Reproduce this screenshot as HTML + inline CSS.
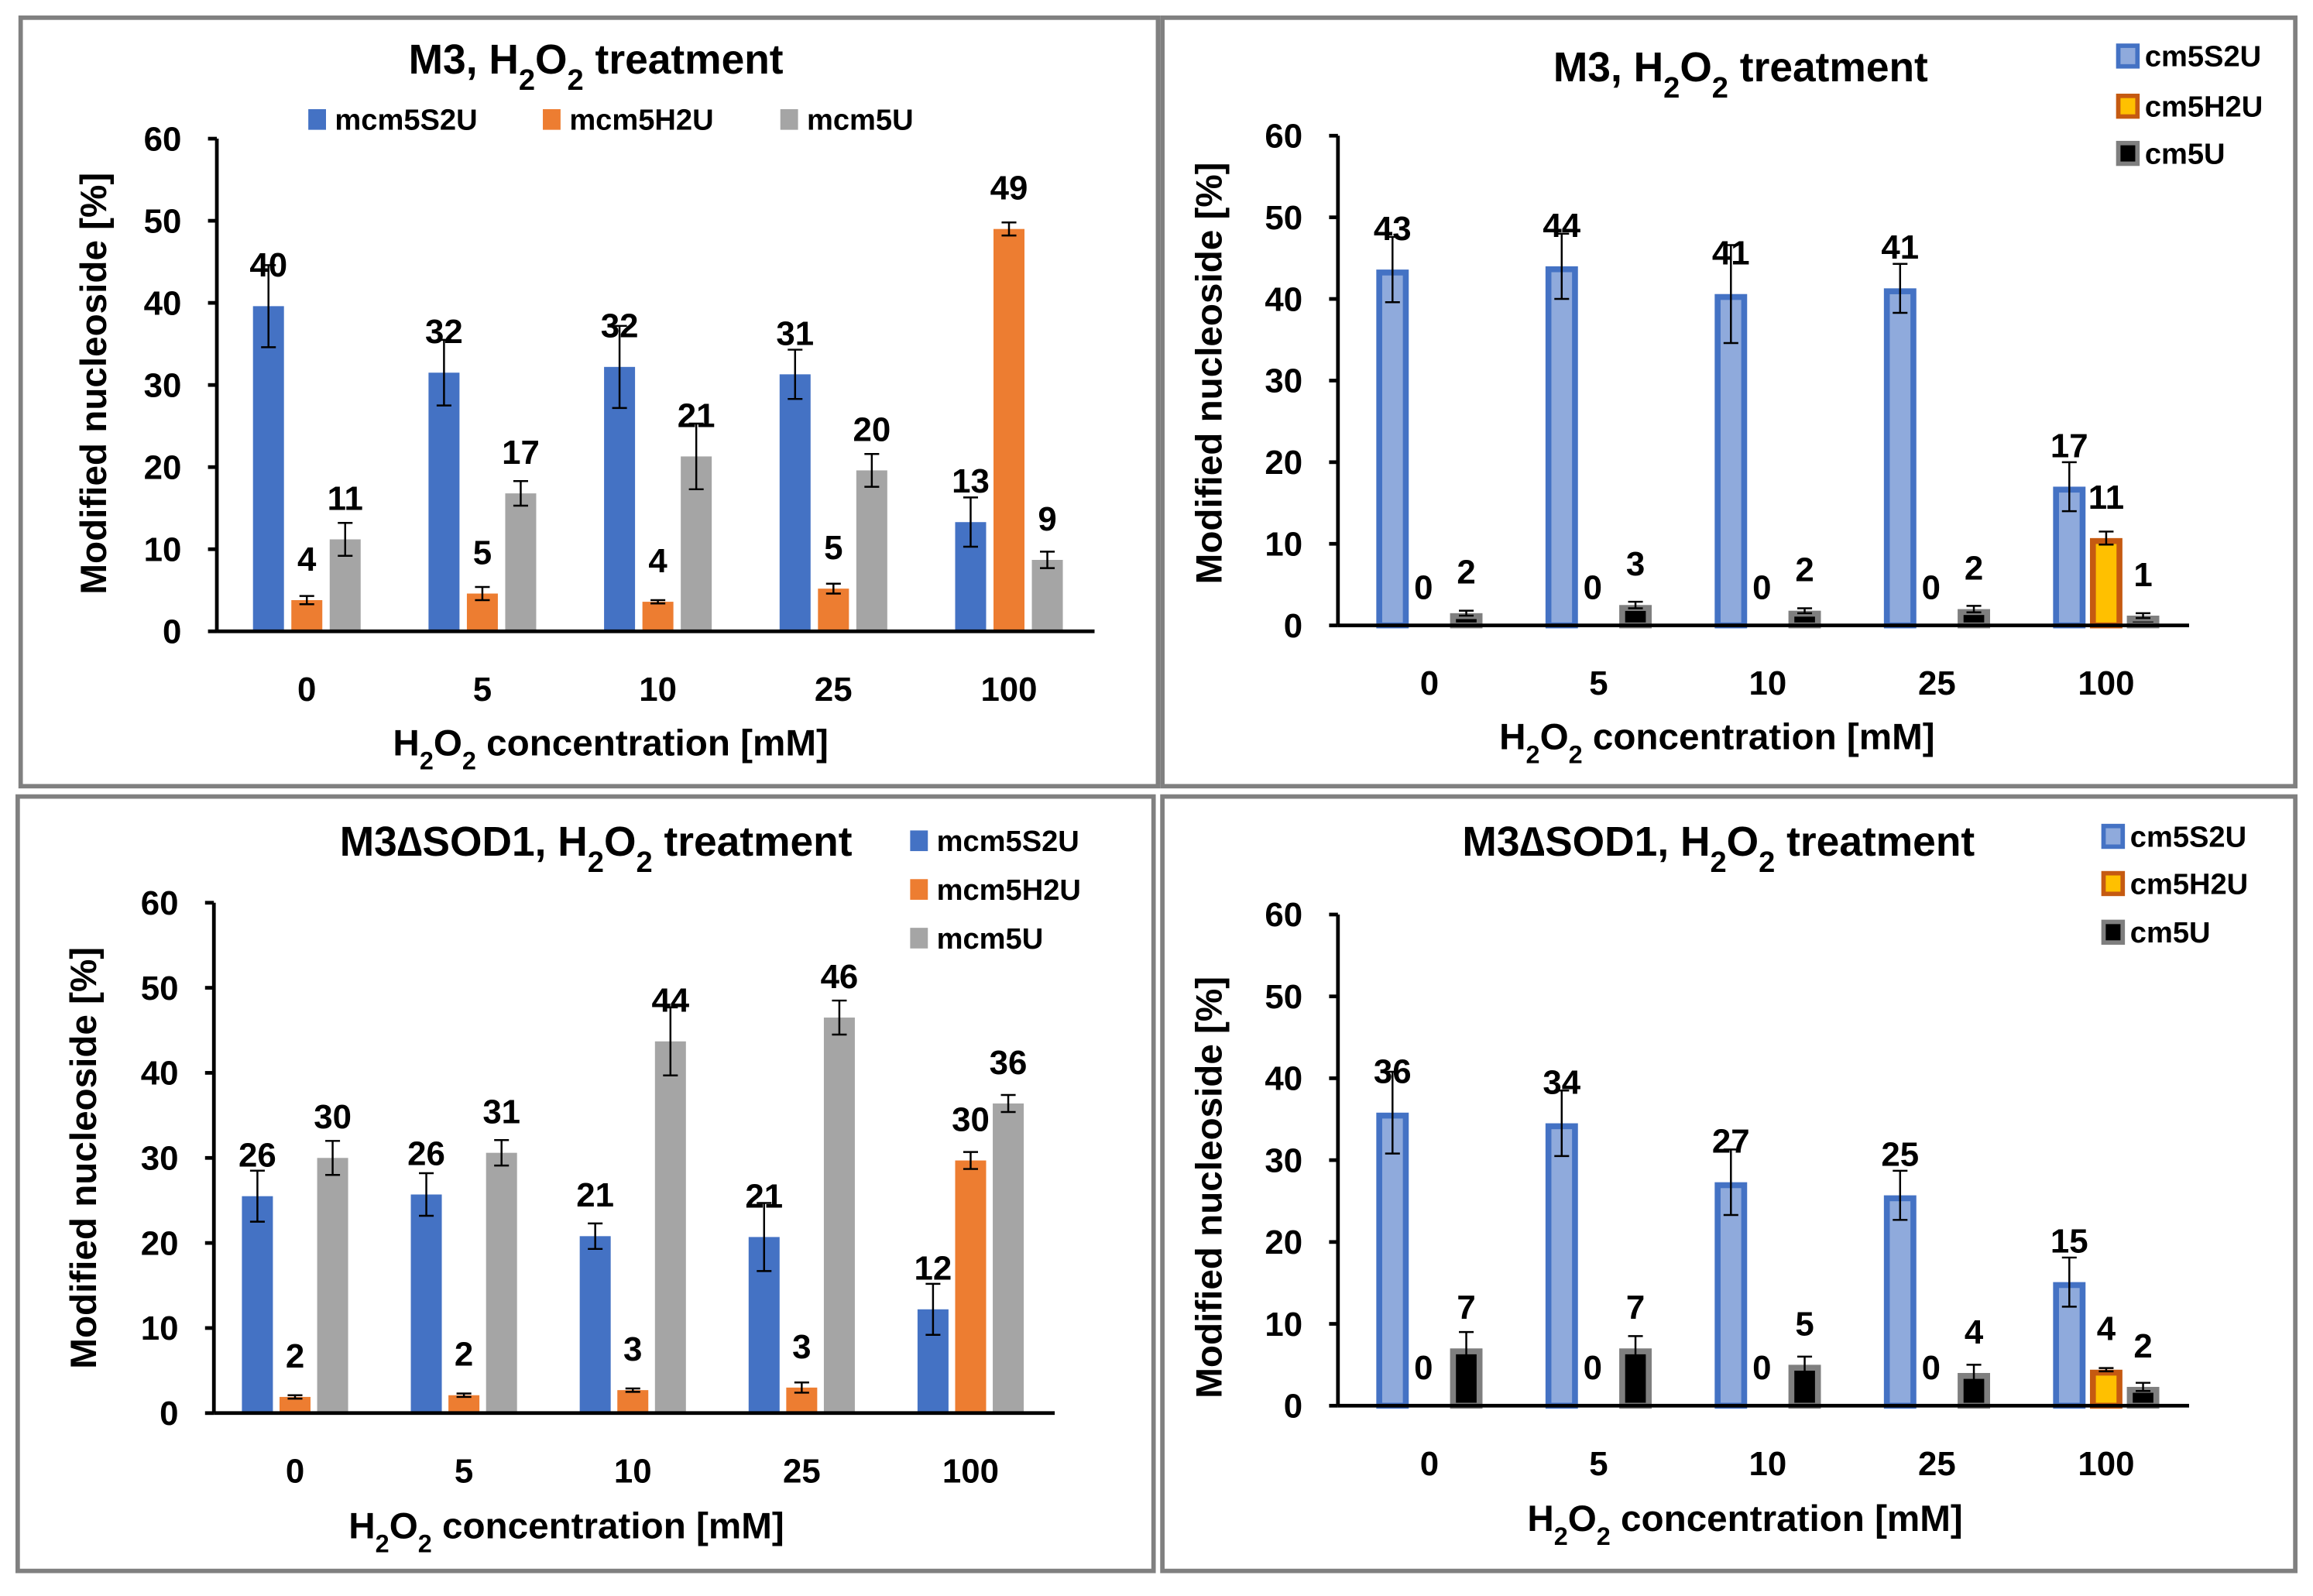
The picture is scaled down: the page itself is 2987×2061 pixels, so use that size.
<!DOCTYPE html>
<html><head><meta charset="utf-8"><style>
html,body{margin:0;padding:0;background:#fff}
svg{display:block}
text{font-family:"Liberation Sans",sans-serif;font-weight:bold;fill:#000}
</style></head><body>
<svg id="s" width="2987" height="2061" viewBox="0 0 1568 1082" preserveAspectRatio="none" xmlns="http://www.w3.org/2000/svg"></svg>
<script>
const categories=["0","5","10","25","100"];
const yTicks=[0,10,20,30,40,50,60];
// Panel A (M3, mcm5)
const a_s2u=[39.6,31.5,32.2,31.3,13.3], a_s2u_err=[5,4,5,3,3], a_s2u_lbl=["40","32","32","31","13"];
const a_h2u=[3.8,4.6,3.6,5.2,49], a_h2u_err=[0.5,0.8,0.2,0.6,0.8], a_h2u_lbl=["4","5","4","5","49"];
const a_u=[11.2,16.8,21.3,19.6,8.7], a_u_err=[2,1.5,4,2,1], a_u_lbl=["11","17","21","20","9"];
// Panel B (M3, cm5)
const b_s2u=[43.6,44,40.6,41.3,17], b_s2u_err=[4,4,6,3,3], b_s2u_lbl=["43","44","41","41","17"];
const b_h2u=[0,0,0,0,10.7], b_h2u_err=[0,0,0,0,0.8], b_h2u_lbl=["0","0","0","0","11"];
const b_u=[1.5,2.5,1.8,2,1.2], b_u_err=[0.3,0.4,0.3,0.4,0.3], b_u_lbl=["2","3","2","2","1"];
// Panel C (M3ΔSOD1, mcm5)
const c_s2u=[25.5,25.7,20.8,20.7,12.2], c_s2u_err=[3,2.5,1.5,4,3], c_s2u_lbl=["26","26","21","21","12"];
const c_h2u=[1.9,2.1,2.7,3,29.7], c_h2u_err=[0.2,0.2,0.2,0.6,1], c_h2u_lbl=["2","2","3","3","30"];
const c_u=[30,30.6,43.7,46.5,36.4], c_u_err=[2,1.5,4,2,1], c_u_lbl=["30","31","44","46","36"];
// Panel D (M3ΔSOD1, cm5)
const d_s2u=[35.8,34.5,27.3,25.7,15.1], d_s2u_err=[5,4,4,3,3], d_s2u_lbl=["36","34","27","25","15"];
const d_h2u=[0,0,0,0,4.4], d_h2u_err=[0,0,0,0,0.2], d_h2u_lbl=["0","0","0","0","4"];
const d_u=[7,7,5,4,2.3], d_u_err=[2,1.5,1,1,0.5], d_u_lbl=["7","7","5","4","2"];

const NS="http://www.w3.org/2000/svg", svg=document.getElementById('s');
function el(t,a,p){const e=document.createElementNS(NS,t);for(const k in a)e.setAttribute(k,a[k]);(p||svg).appendChild(e);return e;}
function txt(x,y,s,size,p,anchor,name){const e=el('text',{x:x,y:y,'font-size':size,'text-anchor':anchor||'middle'},p);e.innerHTML=s;

return e;}

const panels=[
 {bx:14,by:12,bw:771,bh:521,ax:147,y60:94,y0:428,xEnd:742,x0:208,dx:119,off:26,bw2:21,style:'flat',
  title:'M3, H<tspan baseline-shift="sub" font-size="20">2</tspan>O<tspan baseline-shift="sub" font-size="20">2</tspan> treatment',tx:404,ty:50,
  series:[[a_s2u,a_s2u_err,a_s2u_lbl],[a_h2u,a_h2u_err,a_h2u_lbl],[a_u,a_u_err,a_u_lbl]],
  names:['mcm5S2U','mcm5H2U','mcm5U'],leg:'row',legY:81,legX:[215,374,535],xlab:[414,512],ylab:[72,260]},
 {bx:788,by:12,bw:768,bh:521,ax:907,y60:92,y0:424,xEnd:1484,x0:969,dx:114.7,off:25,bw2:22,style:'outline',
  title:'M3, H<tspan baseline-shift="sub" font-size="20">2</tspan>O<tspan baseline-shift="sub" font-size="20">2</tspan> treatment',tx:1180,ty:55,
  series:[[b_s2u,b_s2u_err,b_s2u_lbl],[b_h2u,b_h2u_err,b_h2u_lbl],[b_u,b_u_err,b_u_lbl]],
  names:['cm5S2U','cm5H2U','cm5U'],leg:'col',legX:1442,legYs:[38,72,104],xlab:[1164,508],ylab:[828,253]},
 {bx:12,by:540,bw:770,bh:525,ax:145,y60:612,y0:958,xEnd:715,x0:200,dx:114.5,off:25.5,bw2:21,style:'flat',
  title:'M3∆SOD1, H<tspan baseline-shift="sub" font-size="20">2</tspan>O<tspan baseline-shift="sub" font-size="20">2</tspan> treatment',tx:404,ty:580,
  series:[[c_s2u,c_s2u_err,c_s2u_lbl],[c_h2u,c_h2u_err,c_h2u_lbl],[c_u,c_u_err,c_u_lbl]],
  names:['mcm5S2U','mcm5H2U','mcm5U'],leg:'col',legX:623,legYs:[570,603,636],xlab:[384,1043],ylab:[65,785]},
 {bx:788,by:540,bw:768,bh:525,ax:907,y60:620,y0:953,xEnd:1484,x0:969,dx:114.7,off:25,bw2:22,style:'outline',
  title:'M3∆SOD1, H<tspan baseline-shift="sub" font-size="20">2</tspan>O<tspan baseline-shift="sub" font-size="20">2</tspan> treatment',tx:1165,ty:580,
  series:[[d_s2u,d_s2u_err,d_s2u_lbl],[d_h2u,d_h2u_err,d_h2u_lbl],[d_u,d_u_err,d_u_lbl]],
  names:['cm5S2U','cm5H2U','cm5U'],leg:'col',legX:1432,legYs:[567,599,632],xlab:[1183,1038],ylab:[828,805]}
];
const flat=['#4472c4','#ed7d31','#a5a5a5'];
const outFill=['#8faadc','#ffc000','#000000'], outStroke=['#4472c4','#c55a11','#7f7f7f'];

panels.forEach((P,pi)=>{
 const g=el('g',{});
 
 
 const fr=el('rect',{x:P.bx,y:P.by,width:P.bw,height:P.bh,fill:'none',stroke:'#808080','stroke-width':3},g);
 
 
 const Y=v=>P.y0-(P.y0-P.y60)*v/60;
 txt(P.tx,P.ty,P.title,28,g,'middle','chart-title');
 const ya=el('line',{x1:P.ax,y1:P.y60,x2:P.ax,y2:P.y0,stroke:'#000','stroke-width':2.5},g);
 
 
 yTicks.forEach(t=>{
  el('line',{x1:P.ax-6,y1:Y(t),x2:P.ax,y2:Y(t),stroke:'#000','stroke-width':2.5},g);
  txt(P.ax-24,Y(t)+8,String(t),23,g,'end','y-tick-label');
 });
 P.series.forEach((S,si)=>{
  const [vals,errs,lbls]=S;
  vals.forEach((v,i)=>{
   const cx=P.x0+P.dx*i+(si-1)*P.off, x=cx-P.bw2/2;
   let r;
   if(P.style==='flat'){
    r=el('rect',{x:x,y:Y(v),width:P.bw2,height:P.y0-Y(v),fill:flat[si]},g);
   } else {
    r=el('rect',{x:x+2,y:Y(v)+2,width:P.bw2-4,height:Math.max(0,P.y0-Y(v)-2),fill:outFill[si],stroke:outStroke[si],'stroke-width':4},g);
    if(v<=0) r.setAttribute('stroke-width',0);
   }
   
   
   const e=errs[i];
   if(e>0){
    const yt=Y(v+e), yb=Y(Math.max(0,v-e));
    el('line',{x1:cx,y1:yt,x2:cx,y2:yb,stroke:'#000','stroke-width':1.3},g);
    el('line',{x1:cx-5,y1:yt,x2:cx+5,y2:yt,stroke:'#000','stroke-width':1.3},g);
    el('line',{x1:cx-5,y1:yb,x2:cx+5,y2:yb,stroke:'#000','stroke-width':1.3},g);
   }
   const zero=(P.style==='outline' && si===1 && v<=0);
   const ly = zero? P.y0-18 : Y(v)-20;
   const lx = zero? cx-4 : cx;
   txt(lx,ly,lbls[i],23,g,'middle','value-label');
  });
 });
 const xa=el('line',{x1:P.ax,y1:P.y0,x2:P.xEnd,y2:P.y0,stroke:'#000','stroke-width':2.5},g);
 
 
 categories.forEach((c,i)=>txt(P.x0+P.dx*i,P.y0+47,c,23,g,'middle','x-tick-label'));
 txt(P.xlab[0],P.xlab[1],'H<tspan baseline-shift="sub" font-size="17">2</tspan>O<tspan baseline-shift="sub" font-size="17">2</tspan> concentration  [mM]',25,g,'middle','x-axis-title');
 const yl=txt(0,0,'Modified nucleoside  [%]',25,g,'middle','y-axis-title');
 yl.setAttribute('transform','translate('+P.ylab[0]+','+P.ylab[1]+') rotate(-90)');
 P.names.forEach((n,si)=>{
  let sx,sy;
  if(P.leg==='row'){sx=P.legX[si];sy=P.legY;}else{sx=P.legX;sy=P.legYs[si];}
  const lg=el('g',{},g);
  
  
  if(P.style==='flat') el('rect',{x:sx-6,y:sy-7,width:12,height:14,fill:flat[si]},lg);
  else el('rect',{x:sx-6,y:sy-7,width:13,height:14,fill:outFill[si],stroke:outStroke[si],'stroke-width':3},lg);
  txt(sx+12,sy+7,n,20,lg,'start','legend-text');
 });
});
</script>
</body></html>
